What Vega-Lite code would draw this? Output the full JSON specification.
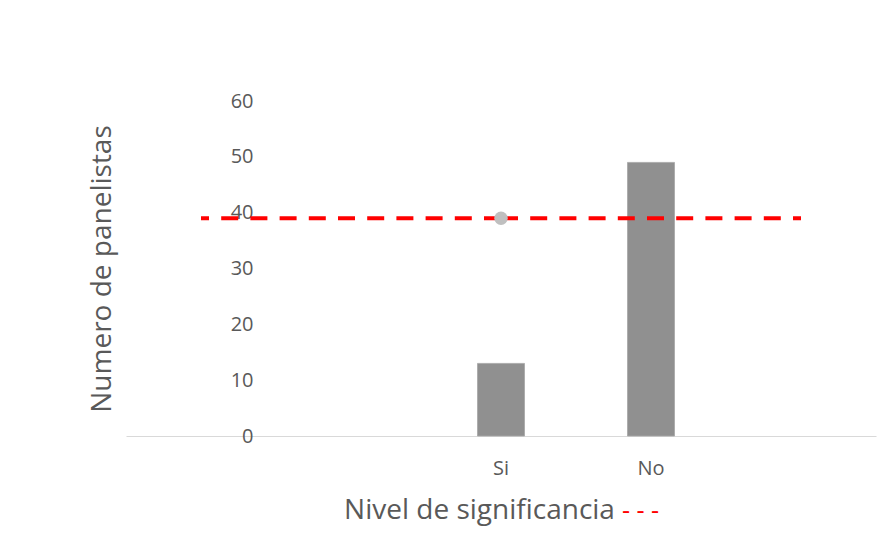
{
  "$schema": "https://vega.github.io/schema/vega-lite/v6.json",
  "width": 750,
  "height": 335,
  "autosize": {"type": "none"},
  "padding": {"left": 126, "top": 101, "right": 10, "bottom": 106},
  "background": "#ffffff",
  "config": {
    "view": {"stroke": null},
    "font": "Open Sans",
    "axis": {"grid": false, "ticks": false}
  },
  "datasets": {
    "bars": [
      {"cat": "Si", "n": 13},
      {"cat": "No", "n": 49}
    ],
    "nivel": [
      {"seg": "a", "cat": "Si", "ord": 1, "valor": 39},
      {"seg": "a", "cat": "c1", "ord": 2, "valor": 39},
      {"seg": "b", "cat": "Si", "ord": 1, "valor": 39},
      {"seg": "b", "cat": "c5", "ord": 2, "valor": 39}
    ],
    "punto": [
      {"cat": "Si", "valor": 39}
    ]
  },
  "layer": [
    {
      "data": {"name": "bars"},
      "mark": {"type": "bar", "width": 47, "color": "#909090", "stroke": "#A6A6A6", "strokeWidth": 0.8},
      "encoding": {
        "x": {
          "field": "cat",
          "type": "nominal",
          "sort": null,
          "scale": {"type": "band", "domain": ["c1", "c2", "Si", "No", "c5"], "paddingInner": 0, "paddingOuter": 0},
          "axis": {
            "orient": "bottom",
            "labelExpr": "datum.value == 'Si' || datum.value == 'No' ? datum.value : ''",
            "labelAngle": 0,
            "labelFontSize": 20,
            "labelColor": "#595959",
            "labelBaseline": "alphabetic",
            "labelPadding": 38,
            "domainColor": "#D9D9D9",
            "domainWidth": 1.2,
            "title": "Nivel de significancia",
            "titleFontSize": 28,
            "titleFontWeight": "normal",
            "titleColor": "#595959",
            "titleBaseline": "alphabetic",
            "titleAlign": "center",
            "titleX": 353,
            "titleY": 82
          }
        },
        "y": {
          "field": "n",
          "type": "quantitative",
          "scale": {"domain": [0, 60], "nice": false},
          "axis": {
            "values": [0, 10, 20, 30, 40, 50, 60],
            "domain": false,
            "labelFontSize": 20,
            "labelColor": "#595959",
            "labelAlign": "right",
            "labelPadding": -127,
            "title": "Numero de panelistas",
            "titleFontSize": 28,
            "titleFontWeight": "normal",
            "titleColor": "#595959",
            "titleAngle": -90,
            "titleBaseline": "alphabetic",
            "titleAlign": "center",
            "titleX": -16,
            "titleY": 167.5
          }
        }
      }
    },
    {
      "data": {"name": "nivel"},
      "mark": {"type": "line", "color": "#FF0000", "strokeWidth": 4, "strokeDash": [17, 12.2]},
      "encoding": {
        "x": {
          "field": "cat",
          "type": "nominal",
          "sort": null,
          "axis": {
            "orient": "bottom",
            "labels": false,
            "domain": false,
            "title": "- - -",
            "titleFontSize": 25,
            "titleFontWeight": "normal",
            "titleColor": "#FF0000",
            "titleBaseline": "alphabetic",
            "titleAlign": "center",
            "titleX": 514,
            "titleY": 82
          }
        },
        "y": {"field": "valor", "type": "quantitative"},
        "detail": {"field": "seg", "type": "nominal"},
        "order": {"field": "ord", "type": "quantitative"}
      }
    },
    {
      "data": {"name": "punto"},
      "mark": {"type": "point", "filled": true, "color": "#BFBFBF", "size": 180, "opacity": 1},
      "encoding": {
        "x": {"field": "cat", "type": "nominal", "sort": null, "axis": null},
        "y": {"field": "valor", "type": "quantitative"}
      }
    }
  ],
  "resolve": {"axis": {"x": "independent"}}
}
